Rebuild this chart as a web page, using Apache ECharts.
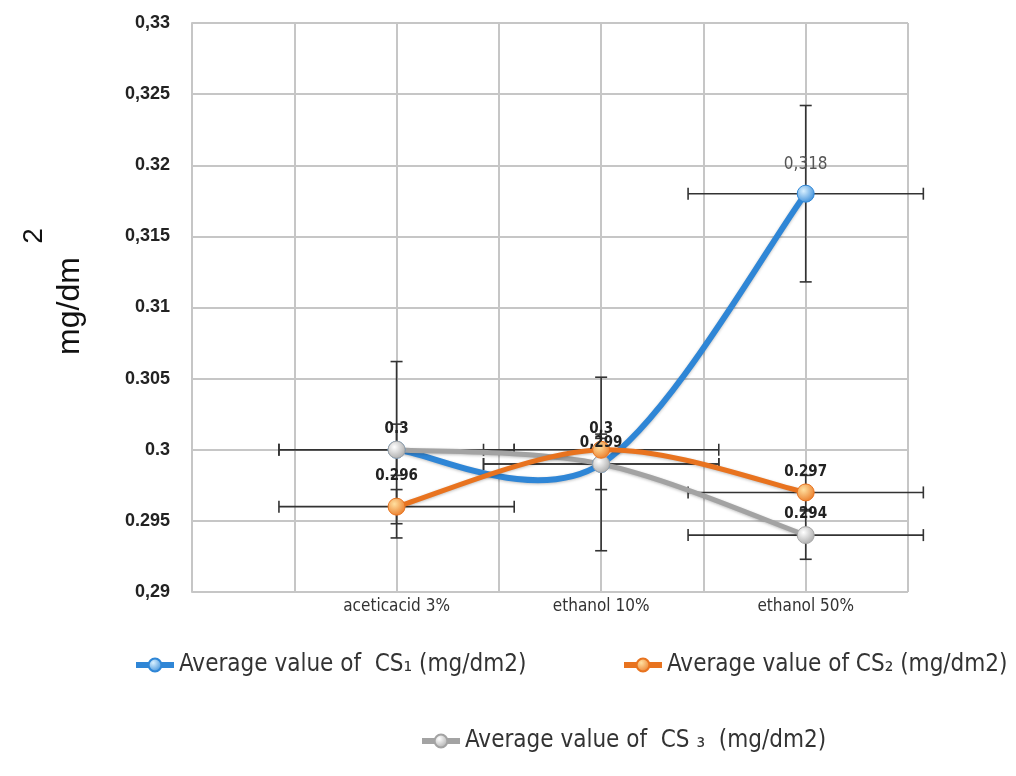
<!DOCTYPE html>
<html>
<head>
<meta charset="utf-8">
<script src="https://cdn.jsdelivr.net/npm/echarts@6/dist/echarts.min.js"></script>
<style>
  html, body { margin: 0; padding: 0; background: #fff; }
  #chart { width: 1016px; height: 776px; }
</style>
</head>
<body>
<div id="chart"></div>
<script>
// categories sit on x = 2, 4, 6 of a 0..7 grid
const categories = ['aceticacid 3%', 'ethanol 10%', 'ethanol 50%'];
const catPos = [2, 4, 6];
const yTicks = ['0,29', '0.295', '0.3', '0.305', '0.31', '0,315', '0.32', '0,325', '0,33'];

const seriesNames = [
  'Average value of  CS\u2081 (mg/dm2)',
  'Average value of CS\u2082 (mg/dm2)',
  'Average value of  CS \u2083  (mg/dm2)'
];
const cs1 = [0.3, 0.299, 0.318];
const cs2 = [0.296, 0.3, 0.297];
const cs3 = [0.3, 0.299, 0.294];

// error bars (y half-width, x half-width in category units)
const cs1ErrY = [0.0062, 0.0061, 0.0062];
const cs2ErrY = [0.0012, 0.0011, 0.0012];
const cs3ErrY = [0.0018, 0.0018, 0.0017];
const errX = 1.15;

const cs1Labels = ['0.3', '', '0,318'];
const cs2Labels = ['0.296', '0,3', '0.297'];
const cs3Labels = ['', '0,299', '0.294'];

const colors = ['#2f86d6', '#e8731f', '#a3a3a3'];
const narrow = 'DejaVu Sans Condensed, Liberation Sans Narrow, Liberation Sans, Arial, sans-serif';

const chart = echarts.init(document.getElementById('chart'));

function ball(light, dark) {
  return {
    type: 'radial', x: 0.38, y: 0.35, r: 0.75,
    colorStops: [{ offset: 0, color: light }, { offset: 1, color: dark }]
  };
}

function points(vals, labels) {
  return vals.map((v, i) => {
    const plain = labels[i] === '0,318';
    return {
      value: [catPos[i], v],
      label: {
        show: labels[i] !== '',
        formatter: labels[i],
        fontWeight: plain ? 'normal' : 'bold',
        color: plain ? '#555' : '#222',
        fontSize: plain ? 17 : 15,
        distance: labels[i] === '0.296' ? 14 : (plain ? 12 : 4)
      }
    };
  });
}

function errData(vals, ey) {
  return vals.map((v, i) => [catPos[i], v, ey[i], errX]);
}

function renderErr(params, api) {
  const x = api.value(0), y = api.value(1), ey = api.value(2), ex = api.value(3);
  const top = api.coord([x, y + ey]);
  const bot = api.coord([x, y - ey]);
  const lft = api.coord([x - ex, y]);
  const rgt = api.coord([x + ex, y]);
  const c = 6;
  const style = { stroke: '#333', lineWidth: 1.6 };
  const seg = (x1, y1, x2, y2) => ({ type: 'line', shape: { x1, y1, x2, y2 }, style });
  return {
    type: 'group',
    children: [
      seg(top[0], top[1], bot[0], bot[1]),
      seg(top[0] - c, top[1], top[0] + c, top[1]),
      seg(bot[0] - c, bot[1], bot[0] + c, bot[1]),
      seg(lft[0], lft[1], rgt[0], rgt[1]),
      seg(lft[0], lft[1] - c, lft[0], lft[1] + c),
      seg(rgt[0], rgt[1] - c, rgt[0], rgt[1] + c)
    ]
  };
}

// Excel-like smoothed line (Catmull-Rom through the points, in pixel space)
function curveSeries(vals, color, width, z) {
  return {
    type: 'custom', z, silent: true,
    data: vals.map((v, i) => [catPos[i], v]),
    renderItem(params, api) {
      if (params.dataIndex !== 0) return null;
      const p = vals.map((v, i) => api.coord([catPos[i], v]));
      const n = p.length;
      const children = [];
      for (let i = 0; i < n - 1; i++) {
        const a = p[Math.max(i - 1, 0)], b = p[i], c = p[i + 1], d = p[Math.min(i + 2, n - 1)];
        children.push({
          type: 'bezierCurve',
          shape: {
            x1: b[0], y1: b[1], x2: c[0], y2: c[1],
            cpx1: b[0] + (c[0] - a[0]) / 6, cpy1: b[1] + (c[1] - a[1]) / 6,
            cpx2: c[0] - (d[0] - b[0]) / 6, cpy2: c[1] - (d[1] - b[1]) / 6
          },
          style: {
            stroke: color, lineWidth: width, fill: null, lineCap: 'round',
            shadowColor: 'rgba(0,0,0,0.25)', shadowBlur: 3, shadowOffsetY: 1
          }
        });
      }
      return { type: 'group', children };
    }
  };
}

function markerSeries(name, vals, labels, color, markerLight, width) {
  return {
    name, type: 'line', z: 6,
    data: points(vals, labels),
    symbol: 'circle', symbolSize: 17,
    lineStyle: { color, width, opacity: 0 },
    itemStyle: { color: ball(markerLight, color), borderColor: color, borderWidth: 1 },
    label: { position: 'top', fontFamily: narrow },
    emphasis: { disabled: true }
  };
}

function legendAt(name, left, top) {
  return {
    data: [name], left, top, itemWidth: 38, itemHeight: 16,
    lineStyle: { width: 6, opacity: 1 },
    textStyle: { fontSize: 24, color: '#333', fontFamily: narrow }
  };
}

chart.setOption({
  animation: false,
  grid: { left: 192, right: 108, top: 23, bottom: 184 },
  xAxis: {
    type: 'value', min: 0, max: 7, interval: 1,
    axisLine: { show: false }, axisTick: { show: false },
    splitLine: { show: true, lineStyle: { color: '#c6c6c6', width: 2 } },
    axisLabel: {
      margin: 6, fontSize: 17, color: '#333', fontFamily: narrow,
      formatter: v => { const k = catPos.indexOf(v); return k >= 0 ? categories[k] : ''; }
    }
  },
  yAxis: {
    type: 'value', min: 0.29, max: 0.33, interval: 0.005,
    axisLine: { show: true, lineStyle: { color: '#c6c6c6', width: 2 } },
    axisTick: { show: false },
    splitLine: { show: true, lineStyle: { color: '#c6c6c6', width: 2 } },
    axisLabel: {
      margin: 22, fontSize: 18, fontWeight: 'bold', color: '#222', fontFamily: 'Liberation Sans, Arial',
      formatter: v => yTicks[Math.round((v - 0.29) / 0.005)]
    }
  },
  legend: [
    legendAt(seriesNames[0], 128, 648),
    legendAt(seriesNames[1], 616, 648),
    legendAt(seriesNames[2], 414, 724)
  ],
  graphic: [
    {
      type: 'text', x: 70, y: 306, rotation: Math.PI / 2,
      style: { text: 'mg/dm', fontSize: 32, fill: '#111', fontFamily: 'Liberation Sans, Arial', align: 'center', verticalAlign: 'middle' }
    },
    {
      type: 'text', x: 34, y: 236, rotation: Math.PI / 2,
      style: { text: '2', fontSize: 28, fill: '#111', fontFamily: 'Liberation Sans, Arial', align: 'center', verticalAlign: 'middle' }
    }
  ],
  series: [
    { type: 'custom', renderItem: renderErr, data: errData(cs1, cs1ErrY), z: 1, silent: true },
    { type: 'custom', renderItem: renderErr, data: errData(cs2, cs2ErrY), z: 1, silent: true },
    { type: 'custom', renderItem: renderErr, data: errData(cs3, cs3ErrY), z: 1, silent: true },
    curveSeries(cs1, colors[0], 6, 2),
    curveSeries(cs3, colors[2], 5, 3),
    curveSeries(cs2, colors[1], 5, 4),
    markerSeries(seriesNames[0], cs1, cs1Labels, colors[0], '#d8f0ff', 6),
    markerSeries(seriesNames[2], cs3, cs3Labels, colors[2], '#ffffff', 5),
    markerSeries(seriesNames[1], cs2, cs2Labels, colors[1], '#ffe0a0', 5)
  ]
});
</script>
</body>
</html>
